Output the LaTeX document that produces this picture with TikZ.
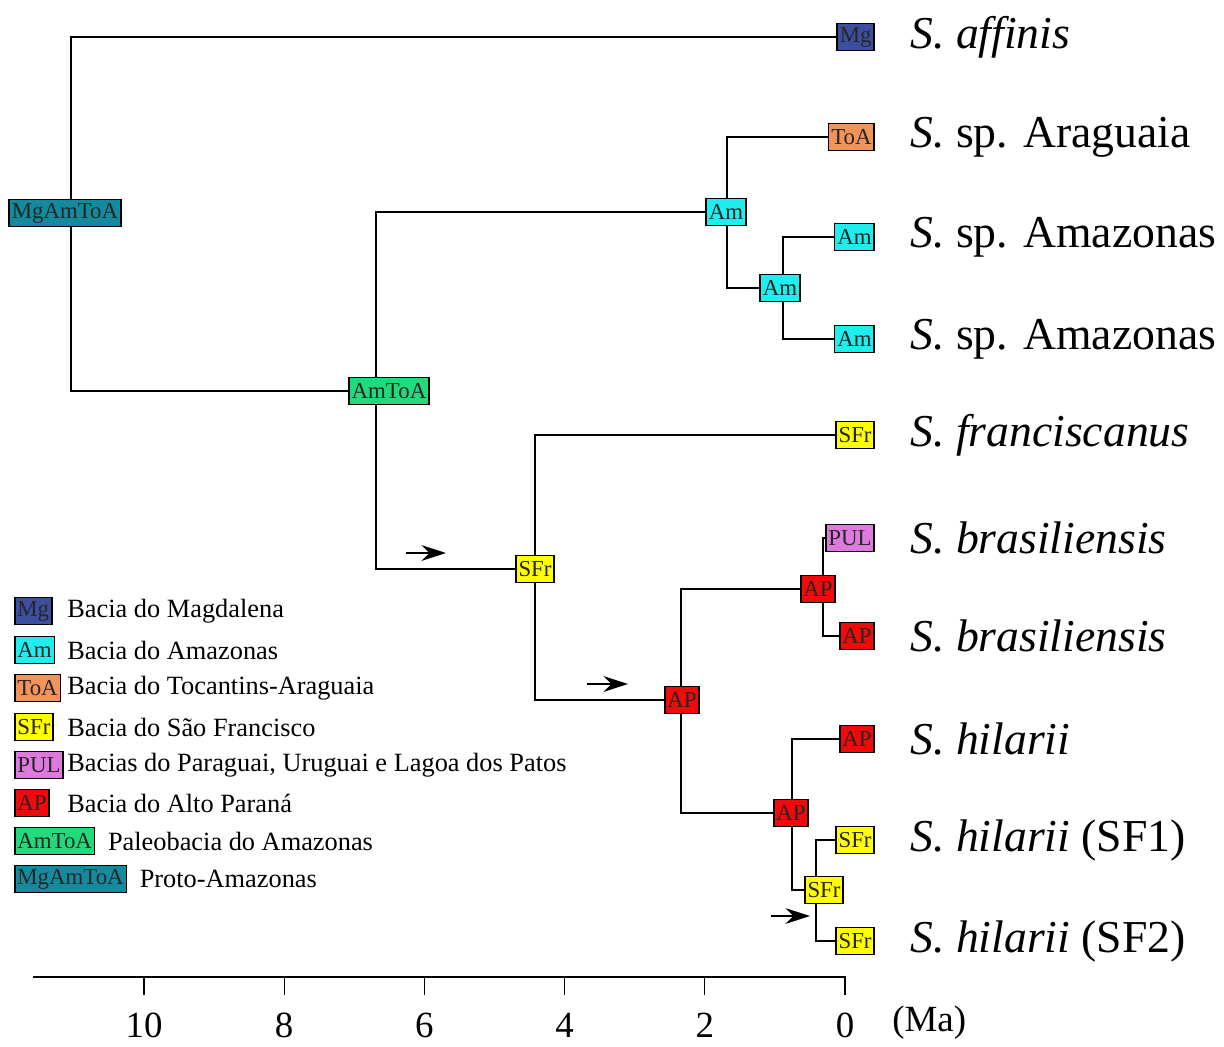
\documentclass[tikz,border=0pt]{standalone}
\usepackage{fontspec}
\setmainfont{Liberation Serif}
\usetikzlibrary{positioning,backgrounds,arrows.meta}

\definecolor{cMg}{RGB}{60,78,158}
\definecolor{cAm}{RGB}{30,238,238}
\definecolor{cToA}{RGB}{240,148,92}
\definecolor{cSFr}{RGB}{255,255,0}
\definecolor{cPUL}{RGB}{222,122,222}
\definecolor{cAP}{RGB}{240,10,10}
\definecolor{cAmToA}{RGB}{34,218,124}
\definecolor{cMgAmToA}{RGB}{20,138,158}

\tikzset{
  reg/.style={draw, line width=0.9pt, inner xsep=1.5pt, inner ysep=1pt,
    minimum height=15.5pt, text=black!85, font=\fontsize{13}{13}\selectfont},
  mg/.style={reg, fill=cMg},
  am/.style={reg, fill=cAm},
  toa/.style={reg, fill=cToA},
  sfr/.style={reg, fill=cSFr},
  pul/.style={reg, fill=cPUL},
  ap/.style={reg, fill=cAP},
  amtoa/.style={reg, fill=cAmToA},
  mgamtoa/.style={reg, fill=cMgAmToA},
  especie/.style={anchor=west, inner sep=0pt, font=\fontsize{26}{28}\selectfont},
  legenda/.style={anchor=west, inner sep=0pt, font=\fontsize{15}{17}\selectfont},
  escala/.style={inner sep=0pt, font=\fontsize{21}{21}\selectfont},
  ramo/.style={line width=1.3pt},
  seta/.style={line width=1.1pt, -{Stealth[length=14pt,width=9pt]}}
}

\begin{document}
\begin{tikzpicture}[x=0.02cm, y=-0.02cm]
\useasboundingbox (0,0) rectangle (1224,1046);

% Folhas (terminais)
\node[mg,  anchor=east] (l1)  at (875,37)  {Mg};
\node[toa, anchor=east] (l2)  at (875,137) {ToA};
\node[am,  anchor=east] (l3)  at (875,237) {Am};
\node[am,  anchor=east] (l4)  at (875,339) {Am};
\node[sfr, anchor=east] (l5)  at (875,435) {SFr};
\node[pul, anchor=east] (l6)  at (875,538) {PUL};
\node[ap,  anchor=east] (l7)  at (875,636) {AP};
\node[ap,  anchor=east] (l8)  at (875,739) {AP};
\node[sfr, anchor=east] (l9)  at (875,840) {SFr};
\node[sfr, anchor=east] (l10) at (875,941) {SFr};

% Nomes das espécies
\node[especie] (e1)  at (910,37)  {\textit{S. affinis}};
\node[especie] (e2)  at (910,137) {\textit{S.} sp. Araguaia};
\node[especie] (e3)  at (910,237) {\textit{S.} sp. Amazonas};
\node[especie] (e4)  at (910,339) {\textit{S.} sp. Amazonas};
\node[especie] (e5)  at (910,435) {\textit{S. franciscanus}};
\node[especie] (e6)  at (910,538) {\textit{S. brasiliensis}};
\node[especie] (e7)  at (910,636) {\textit{S. brasiliensis}};
\node[especie] (e8)  at (910,739) {\textit{S. hilarii}};
\node[especie] (e9)  at (910,840) {\textit{S. hilarii} (SF1)};
\node[especie] (e10) at (910,941) {\textit{S. hilarii} (SF2)};

% Nós internos (junções e caixas)
\coordinate (r) at (71,213);
\coordinate (a) at (376,391);
\coordinate (b) at (727,212);
\coordinate (c) at (783,288);
\coordinate (d) at (535,569);
\coordinate (e) at (681,700);
\coordinate (f) at (823,589);
\coordinate (g) at (792,813);
\coordinate (h) at (816,890);

\node[mgamtoa] (n1) at (65,213)  {MgAmToA};
\node[amtoa]   (n2) at (389,391) {AmToA};
\node[am]      (n3) at (726,212) {Am};
\node[am]      (n4) at (780,288) {Am};
\node[sfr]     (n5) at (535,569) {SFr};
\node[ap]      (n6) at (682,700) {AP};
\node[ap]      (n7) at (818,589) {AP};
\node[ap]      (n8) at (791,813) {AP};
\node[sfr]     (n9) at (824,890) {SFr};

% Ramos da árvore
\begin{scope}[on background layer]
\draw[ramo] (l1.west) -| (r) |- (n2.west);
\draw[ramo] (n3.west) -| (a) |- (n5.west);
\draw[ramo] (l2.west) -| (b) |- (n4.west);
\draw[ramo] (l3.west) -| (c) |- (l4.west);
\draw[ramo] (l5.west) -| (d) |- (n6.west);
\draw[ramo] (n7.west) -| (e) |- (n8.west);
\draw[ramo] (l6.west) -| (f) |- (l7.west);
\draw[ramo] (l8.west) -| (g) |- (n9.west);
\draw[ramo] (l9.west) -| (h) |- (l10.west);
\end{scope}

% Setas (dispersão)
\coordinate (s1) at (406,553); \coordinate (t1) at (446,553);
\coordinate (s2) at (587,684); \coordinate (t2) at (628,684);
\coordinate (s3) at (771,916); \coordinate (t3) at (810,916);
\draw[seta] (s1) -- (t1);
\draw[seta] (s2) -- (t2);
\draw[seta] (s3) -- (t3);

% Eixo do tempo
\draw[line width=1.5pt] (33,977) -- (846,977);
\foreach \t in {0,2,...,10} {
  \draw[line width=0.7pt] (845-70.1*\t,977) -- ++(0,18);
  \node[escala] (x\t) at (845-70.1*\t,1025) {\t};
}
\node[escala, anchor=west] (ma) at (892,1023) {(Ma)};

% Legenda
\node[mg,      anchor=west] (lg1) at (14,611) {Mg};
\node[am,      anchor=west] (lg2) at (14,650) {Am};
\node[toa,     anchor=west] (lg3) at (14,688) {ToA};
\node[sfr,     anchor=west] (lg4) at (14,727) {SFr};
\node[pul,     anchor=west] (lg5) at (14,765) {PUL};
\node[ap,      anchor=west] (lg6) at (14,803) {AP};
\node[amtoa,   anchor=west] (lg7) at (14,841) {AmToA};
\node[mgamtoa, anchor=west] (lg8) at (14,879) {MgAmToA};

\node[legenda] (t1) at (67,611) {Bacia do Magdalena};
\node[legenda] (t2) at (67,650) {Bacia do Amazonas};
\node[legenda] (t3) at (67,688) {Bacia do Tocantins-Araguaia};
\node[legenda] (t4) at (67,727) {Bacia do São Francisco};
\node[legenda] (t5) at (67,765) {Bacias do Paraguai, Uruguai e Lagoa dos Patos};
\node[legenda] (t6) at (67,803) {Bacia do Alto Paraná};
\node[legenda, right=7pt of lg7] (t7) {Paleobacia do Amazonas};
\node[legenda, right=7pt of lg8] (t8) {Proto-Amazonas};

\end{tikzpicture}
\end{document}
